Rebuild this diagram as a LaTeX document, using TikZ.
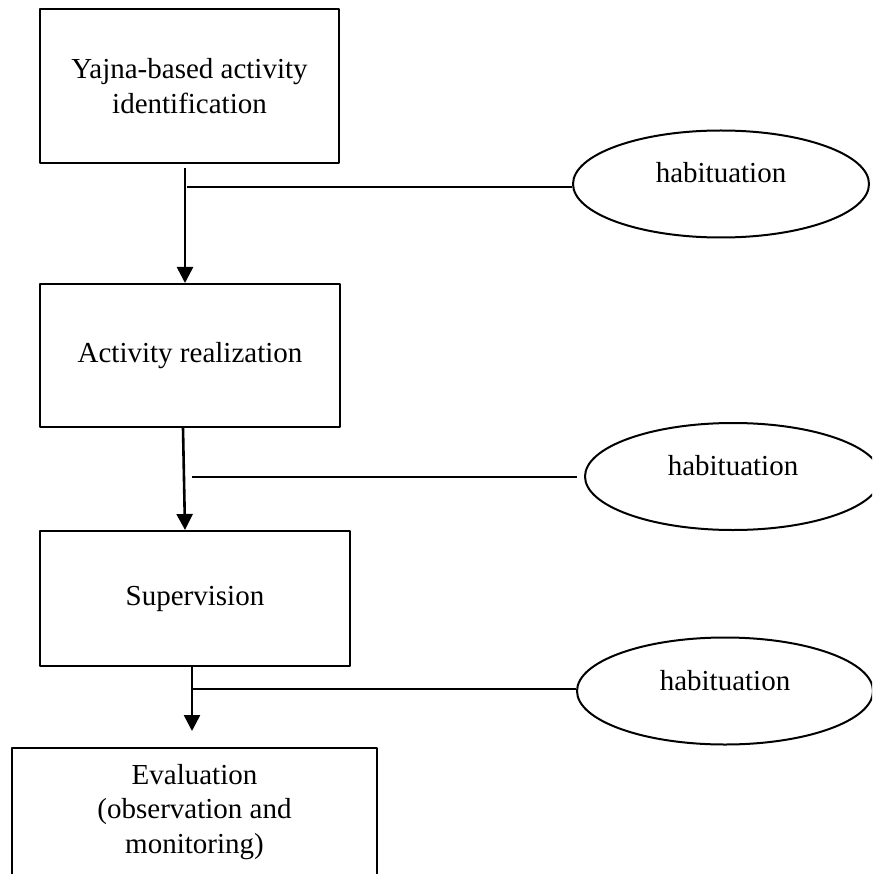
\documentclass[tikz,border=0pt]{standalone}
\usepackage{fontspec}
\setmainfont{Liberation Serif}
\usetikzlibrary{arrows.meta,shapes.geometric}

\begin{document}
\begin{tikzpicture}[x=1pt,y=-1pt,font=\fontsize{29}{34.5}\selectfont,line join=round,
	stage/.style={draw,line width=2pt,align=center,inner sep=0pt},
	habit/.style={draw,ellipse,line width=2pt,minimum width=296pt,minimum height=107pt,inner sep=0pt,text height=20pt,text depth=22pt},
	flow/.style={line width=2.6pt,-{Triangle[length=16pt,width=16pt]}},
	link/.style={line width=2pt}]
	\useasboundingbox (0,0) rectangle (872,874);
	\clip (0,0) rectangle (872,874);
	% stages
	\node[stage,minimum width=299pt,minimum height=154pt] (yajna) at (189.5,86) {Yajna-based activity\\identification};
	\node[stage,minimum width=300pt,minimum height=143pt] (real) at (190,355.5) {Activity realization};
	\node[stage,minimum width=310pt,minimum height=135pt] (superv) at (195,598.5) {Supervision};
	\node[stage,anchor=north,minimum width=365pt,inner ysep=16pt,text depth=34pt] (eval) at (194.5,747) {Evaluation\\(observation and\\monitoring)};
	% habituation
	\foreach \n/\x/\y in {h1/721/184,h2/733/476.5,h3/725/691}
	\node[habit] (\n) at (\x,\y) {habituation};
	% arrows
	\draw[flow] ([xshift=-4.5pt,yshift=-4pt]yajna.south) -- ([xshift=-5pt]real.north);
	\draw[flow] ([xshift=-7pt]real.south) -- ([xshift=-10pt]superv.north);
	\draw[flow] ([xshift=-3pt]superv.south) -- ([xshift=-2.5pt,yshift=16pt]eval.north);
	\coordinate (j1) at (187,187);
	\coordinate (j2) at (192,477);
	\coordinate (j3) at (193,689);
	\draw[link] (j1) -- (j1 -| h1.west);
	\draw[link] (j2) -- ([xshift=-7pt]j2 -| h2.west);
	\draw[link] (j3) -- (j3 -| h3.west);
\end{tikzpicture}
\end{document}
